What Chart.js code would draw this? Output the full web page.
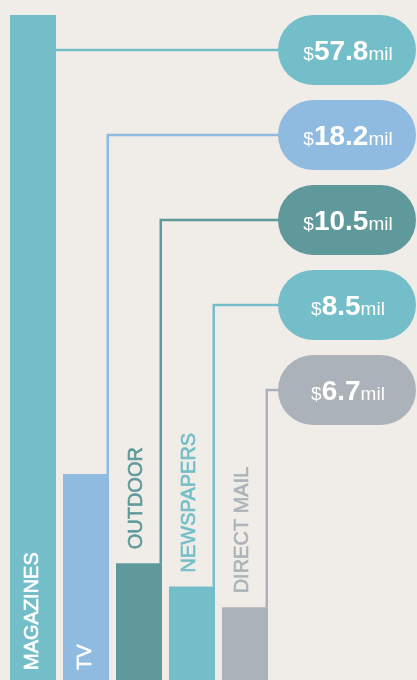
<!DOCTYPE html>
<html><head><meta charset="utf-8">
<script src="https://cdn.jsdelivr.net/npm/chart.js@4.4.1/dist/chart.umd.min.js"></script>
<style>
html,body{margin:0;padding:0;background:#F0EDE8;overflow:hidden}
#wrap{width:417px;height:680px;position:relative}
</style>
</head><body><div id="wrap"><canvas id="c"></canvas></div>
<script>
const categories = ['MAGAZINES', 'TV', 'OUTDOOR', 'NEWSPAPERS', 'DIRECT MAIL'];
const spendMillions = [57.8, 18.2, 10.5, 8.5, 6.7];
const barColors = ['#73BEC8', '#8EBBDF', '#5F999B', '#73BEC8', '#ACB2B9'];
const labelInside = [true, true, false, false, false];

const FONT = '"Liberation Sans", Arial, sans-serif';

function pill(ctx, x, y, w, h) {
  const r = h / 2;
  ctx.beginPath();
  ctx.moveTo(x + r, y);
  ctx.lineTo(x + w - r, y);
  ctx.arc(x + w - r, y + r, r, -Math.PI / 2, Math.PI / 2);
  ctx.lineTo(x + r, y + h);
  ctx.arc(x + r, y + r, r, Math.PI / 2, Math.PI * 1.5);
  ctx.closePath();
}

const calloutPlugin = {
  id: 'callouts',
  afterDatasetsDraw(chart) {
    const ctx = chart.ctx;
    const meta = chart.getDatasetMeta(0);
    ctx.save();
    meta.data.forEach((bar, i) => {
      const right = bar.x + bar.width / 2;
      const top = bar.y;
      const py = 50 + 85 * i;
      const pl = 278, pr = 416, ph = 70;
      // connector
      ctx.strokeStyle = barColors[i];
      ctx.lineWidth = 2.5;
      ctx.beginPath();
      if (py >= top) {
        ctx.moveTo(right, py);
        ctx.lineTo(pl + 10, py);
      } else {
        const lx = right - 1.25;
        ctx.moveTo(lx, top);
        ctx.lineTo(lx, py);
        ctx.lineTo(pl + 10, py);
      }
      ctx.stroke();
      // pill
      ctx.fillStyle = barColors[i];
      pill(ctx, pl, py - ph / 2, pr - pl, ph);
      ctx.fill();
      // pill text
      const num = spendMillions[i].toFixed(1);
      const fSmall = '19px ' + FONT, fBig = 'bold 28px ' + FONT;
      ctx.font = fSmall;
      const w1 = ctx.measureText('$').width;
      const w3 = ctx.measureText('mil').width;
      ctx.font = fBig;
      const w2 = ctx.measureText(num).width;
      let x = (pl + pr) / 2 + 1 - (w1 + w2 + w3) / 2;
      const by = py + 10;
      ctx.fillStyle = '#ffffff';
      ctx.textAlign = 'left';
      ctx.textBaseline = 'alphabetic';
      ctx.font = fSmall; ctx.fillText('$', x, by); x += w1;
      ctx.font = fBig; ctx.fillText(num, x, by); x += w2;
      ctx.font = fSmall; ctx.fillText('mil', x, by);
      // category label (vertical)
      ctx.save();
      const inside = labelInside[i];
      ctx.translate(bar.x + (inside ? -0.5 : -2.5), inside ? 670 : top - 14);
      ctx.rotate(-Math.PI / 2);
      ctx.font = '20px ' + FONT;
      ctx.textAlign = 'left';
      ctx.textBaseline = 'middle';
      const c = inside ? '#ffffff' : barColors[i];
      ctx.fillStyle = c;
      ctx.strokeStyle = c;
      ctx.lineWidth = 0.6;
      ctx.fillText(categories[i], 0, 0);
      ctx.strokeText(categories[i], 0, 0);
      ctx.restore();
    });
    ctx.restore();
  }
};

new Chart(document.getElementById('c'), {
  type: 'bar',
  data: {
    labels: categories,
    datasets: [{
      data: spendMillions,
      backgroundColor: barColors,
      borderWidth: 0,
      categoryPercentage: 1,
      barPercentage: 46 / 53
    }]
  },
  options: {
    responsive: true,
    maintainAspectRatio: false,
    animation: false,
    layout: { padding: { left: 6.5, right: 145.5, top: 0, bottom: 0 } },
    plugins: { legend: { display: false }, tooltip: { enabled: false } },
    scales: {
      x: { display: false, offset: true, grid: { display: false } },
      y: { display: false, min: 0.43, max: 59.1, grid: { display: false } }
    }
  },
  plugins: [calloutPlugin]
});
</script>
</body></html>
